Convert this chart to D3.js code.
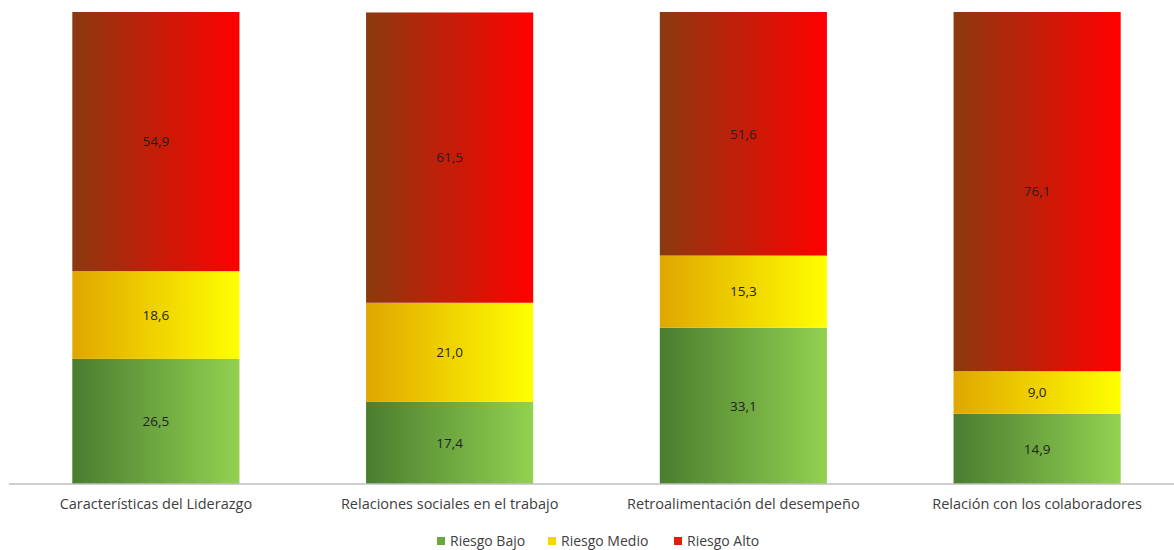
<!DOCTYPE html>
<html>
<head>
<meta charset="utf-8">
<script src="https://cdn.jsdelivr.net/npm/d3@7"></script>
<style>
  html, body { margin: 0; padding: 0; background: #fff; }
  svg { display: block; }
  text { font-family: "Open Sans", "Noto Sans", sans-serif; }
</style>
</head>
<body>
<svg id="chart" width="1174" height="550"></svg>
<script>
const categories = [
  "Características del Liderazgo",
  "Relaciones sociales en el trabajo",
  "Retroalimentación del desempeño",
  "Relación con los colaboradores"
];
const riesgoBajo  = [26.5, 17.4, 33.1, 14.9];
const riesgoMedio = [18.6, 21.0, 15.3, 9.0];
const riesgoAlto  = [54.9, 61.5, 51.6, 76.1];
const seriesNames = ["Riesgo Bajo", "Riesgo Medio", "Riesgo Alto"];

const W = 1174, H = 550;
const plot = { left: 9, right: 1184, top: 12, bottom: 484 };

const svg = d3.select("#chart");

// horizontal gradients for each series
const gradStops = [
  ["#4a7d30", "#93d150"],
  ["#e0a600", "#ffff00"],
  ["#8a3a10", "#ff0000"]
];
const defs = svg.append("defs");
gradStops.forEach((c, i) => {
  const g = defs.append("linearGradient")
    .attr("id", "g" + i).attr("x1", "0%").attr("x2", "100%").attr("y1", "0%").attr("y2", "0%");
  g.append("stop").attr("offset", "0%").attr("stop-color", c[0]);
  g.append("stop").attr("offset", "100%").attr("stop-color", c[1]);
});

const rows = categories.map((c, i) => ({
  cat: c, "Riesgo Bajo": riesgoBajo[i], "Riesgo Medio": riesgoMedio[i], "Riesgo Alto": riesgoAlto[i]
}));
const stacked = d3.stack().keys(seriesNames)(rows);

const x = d3.scaleBand().domain(categories).range([plot.left, plot.right])
  .paddingInner(0.431).paddingOuter(0.2155);
const y = d3.scaleLinear().domain([0, 100]).range([plot.bottom, plot.top]);

stacked.forEach((layer, si) => {
  const g = svg.append("g");
  g.selectAll("rect").data(layer).enter().append("rect")
    .attr("x", d => x(d.data.cat))
    .attr("width", x.bandwidth())
    .attr("y", d => y(d[1]))
    .attr("height", d => y(d[0]) - y(d[1]))
    .attr("fill", `url(#g${si})`);
  g.selectAll("text").data(layer).enter().append("text")
    .attr("x", d => x(d.data.cat) + x.bandwidth() / 2)
    .attr("y", d => (y(d[0]) + y(d[1])) / 2)
    .attr("dy", "0.35em")
    .attr("text-anchor", "middle")
    .attr("font-size", 13.5)
    .attr("fill", "#1f1f1f")
    .text(d => d3.format(".1f")(d[1] - d[0]).replace(".", ","));
});

// category axis
const axis = svg.append("g").attr("transform", `translate(0,${plot.bottom})`)
  .call(d3.axisBottom(x).tickSize(0).tickPadding(15));
axis.select(".domain").attr("stroke", "#bfbfbf").attr("stroke-width", 1.5)
  .attr("d", `M${plot.left},0H${W}`);
axis.selectAll(".tick text").attr("font-size", 14.5).attr("fill", "#404040")
  .attr("font-family", "'Open Sans', sans-serif");

// legend
const legendItems = [
  { name: "Riesgo Bajo", color: "#6aa83e", x: 437 },
  { name: "Riesgo Medio", color: "#f5d800", x: 548 },
  { name: "Riesgo Alto", color: "#e01e0a", x: 674 }
];
const lg = svg.append("g").attr("transform", "translate(0,541)");
legendItems.forEach(it => {
  lg.append("rect").attr("x", it.x).attr("y", -4).attr("width", 8).attr("height", 8).attr("fill", it.color);
  lg.append("text").attr("x", it.x + 13).attr("y", 0).attr("dy", "0.35em")
    .attr("font-size", 14).attr("fill", "#404040").text(it.name);
});
</script>
</body>
</html>
